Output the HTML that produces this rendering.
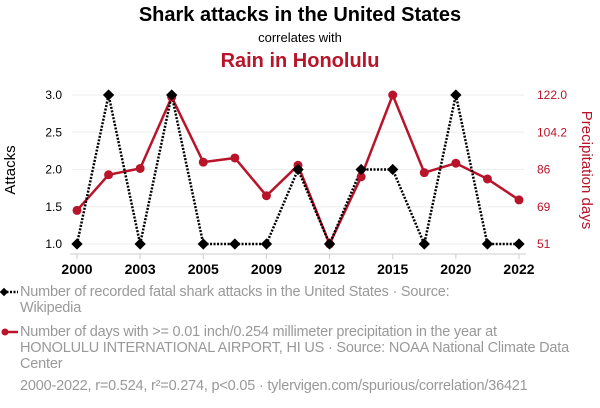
<!DOCTYPE html>
<html><head><meta charset="utf-8"><style>
body{margin:0;width:600px;height:408px;background:#fff;font-family:"Liberation Sans",sans-serif;overflow:hidden;position:relative}
.leg{position:absolute;left:20px;white-space:nowrap;color:#999;font-size:14.5px;line-height:16px;letter-spacing:-0.2px}
</style></head><body>
<svg id="chart" width="600" height="408" style="position:absolute;left:0;top:0">
<text x="300" y="21" text-anchor="middle" font-size="20" font-weight="bold" fill="#000">Shark attacks in the United States</text>
<text x="300" y="42" text-anchor="middle" font-size="13" fill="#000">correlates with</text>
<text x="300" y="67" text-anchor="middle" font-size="20" font-weight="bold" fill="#b8142a">Rain in Honolulu</text>
<g id="grid"></g><g id="axes"></g><g id="series"></g>
<text transform="translate(15,170) rotate(-90)" text-anchor="middle" font-size="15" fill="#000">Attacks</text>
<text transform="translate(582,170) rotate(90)" text-anchor="middle" font-size="15" fill="#b8142a">Precipitation days</text>
</svg>
<div class="leg" style="top:284px">Number of recorded fatal shark attacks in the United States · Source:<br>Wikipedia</div>
<div class="leg" style="top:324px">Number of days with &gt;= 0.01 inch/0.254 millimeter precipitation in the year at<br>HONOLULU INTERNATIONAL AIRPORT, HI US · Source: NOAA National Climate Data<br>Center</div>
<div class="leg" style="top:378px">2000-2022, r=0.524, r²=0.274, p&lt;0.05 · tylervigen.com/spurious/correlation/36421</div>
<svg width="20" height="120" style="position:absolute;left:0;top:280px">
<line x1="3" y1="12" x2="18" y2="12" stroke="#000" stroke-width="2.5" stroke-dasharray="2,1.5"/>
<rect x="1" y="9" width="6" height="6" fill="#000" transform="rotate(45 4 12)"/>
<line x1="3" y1="52" x2="18" y2="52" stroke="#b8142a" stroke-width="2.5"/>
<circle cx="5" cy="52" r="3.5" fill="#b8142a"/>
</svg>
<script>
const years=["2000","2001","2003","2004","2005","2007","2009","2010","2012","2014","2015","2017","2020","2021","2022"];
const attacks=[1,3,1,3,1,1,1,2,1,2,2,1,3,1,1];
const rain=[67,84,87,121,90,92,74,88.5,51,83,122,85,89.5,82,72];
const leftTicks=["1.0","1.5","2.0","2.5","3.0"];
const rightTicks=["51","69","86","104.2","122.0"];
const ns="http://www.w3.org/2000/svg";
const X0=77,X1=519,YT=95,YB=244,red="#b8142a";
const xs=i=>X0+(X1-X0)*i/(years.length-1);
const yl=v=>YB-(v-1)/2*(YB-YT);
const yr=v=>YB-(v-51)/(122-51)*(YB-YT);
function mk(p,t,a){const e=document.createElementNS(ns,t);for(const k in a)e.setAttribute(k,a[k]);p.appendChild(e);return e;}
const G=document.getElementById('grid'),A=document.getElementById('axes'),S=document.getElementById('series');
leftTicks.forEach((t,i)=>{const y=yl(parseFloat(t));
const g=mk(G,'line',{x1:X0-5,x2:X1+5,y1:y,y2:y,stroke:'#eee','stroke-width':1});

const l=mk(A,'text',{x:62,y:y+4,'text-anchor':'end','font-size':12,fill:'#000'});l.textContent=t;

const r=mk(A,'text',{x:537,y:y+4,'font-size':12,fill:red});r.textContent=rightTicks[i];
});
const ax=mk(A,'line',{x1:X0-7,x2:X1+7,y1:YB+10,y2:YB+10,stroke:'#ccc'});

years.forEach((yv,i)=>{if(i%2)return;const x=xs(i);
mk(A,'line',{x1:x,x2:x,y1:YB+10,y2:YB+15,stroke:'#ccc'});
const t=mk(A,'text',{x:x,y:YB+30,'text-anchor':'middle','font-size':14,'font-weight':'bold',fill:'#000'});t.textContent=yv;
});
const rp=mk(S,'polyline',{points:rain.map((v,i)=>xs(i)+','+yr(v)).join(' '),fill:'none',stroke:red,'stroke-width':2.5});

const ap=mk(S,'polyline',{points:attacks.map((v,i)=>xs(i)+','+yl(v)).join(' '),fill:'none',stroke:'#000','stroke-width':2.5,'stroke-dasharray':'2,1.5'});

rain.forEach((v,i)=>{const c=mk(S,'circle',{cx:xs(i),cy:yr(v),r:4.5,fill:red});
});
attacks.forEach((v,i)=>{const x=xs(i),y=yl(v);const d=mk(S,'rect',{x:x-4,y:y-4,width:8,height:8,fill:'#000',transform:`rotate(45 ${x} ${y})`});
});
</script>
</body></html>
